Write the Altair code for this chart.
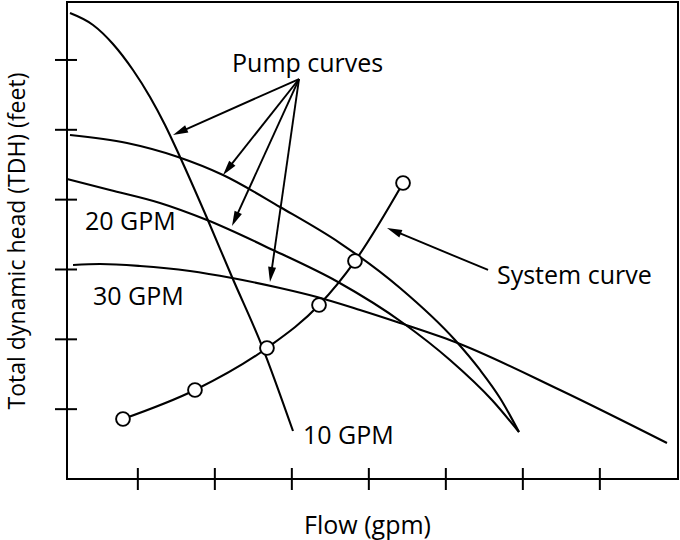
import math
import altair as alt
import pandas as pd

# Pump performance curves: flow (x) against total dynamic head (y), in grid units
flow_10gpm = [0.119, 0.418, 0.677, 0.937, 1.158, 1.353, 1.548, 1.898, 2.223, 2.612, 3.015]
head_10gpm = [6.672, 6.501, 6.229, 5.856, 5.470, 5.069, 4.611, 3.737, 2.892, 1.904, 0.687]

flow_upper = [0.119, 0.859, 1.522, 2.106, 2.846, 3.625, 4.405, 5.119, 5.444, 5.703, 5.950]
head_upper = [4.926, 4.811, 4.611, 4.353, 3.895, 3.379, 2.735, 1.990, 1.561, 1.160, 0.673]

flow_20gpm = [0.080, 0.638, 1.288, 1.898, 2.755, 3.599, 4.444, 5.054, 5.599, 5.950]
head_20gpm = [4.296, 4.138, 3.952, 3.708, 3.279, 2.821, 2.234, 1.704, 1.131, 0.673]

flow_30gpm = [0.158, 0.509, 1.028, 1.677, 2.223, 2.846, 3.327, 3.885, 4.405, 5.119, 6.483, 7.872]
head_30gpm = [3.064, 3.078, 3.050, 2.978, 2.878, 2.735, 2.606, 2.420, 2.234, 1.962, 1.274, 0.515]

# System curve with its measured points
system_flow = [0.807, 1.742, 2.677, 3.353, 3.820, 4.444]
system_head = [0.859, 1.274, 1.876, 2.491, 3.121, 4.238]

# Unlabelled tick positions
x_ticks = [1, 2, 3, 4, 5, 6, 7]
y_ticks = [1, 2, 3, 4, 5, 6]

# Annotation text (anchored at the left end of the baseline)
label_text = ["Pump curves", "20 GPM", "30 GPM", "10 GPM", "System curve"]
label_flow = [2.223, 0.314, 0.418, 3.145, 5.664]
label_head = [5.828, 3.565, 2.491, 0.501, 2.792]

# Callout arrows: tail -> head
arrow_from_flow = [3.093, 3.093, 3.093, 3.093, 5.548]
arrow_from_head = [5.727, 5.727, 5.727, 5.727, 2.993]
arrow_to_flow = [1.457, 2.106, 2.223, 2.716, 4.236]
arrow_to_head = [4.926, 4.353, 3.623, 2.821, 3.594]

W, H = 611, 477
X_DOMAIN = [0.08, 8.015]
Y_DOMAIN = [0.0, 6.83]
FONT = "Open Sans"

kx = W / (X_DOMAIN[1] - X_DOMAIN[0])
ky = H / (Y_DOMAIN[1] - Y_DOMAIN[0])

curve_rows = []
for name, fx, hy in [("10 GPM", flow_10gpm, head_10gpm),
                     ("upper", flow_upper, head_upper),
                     ("20 GPM", flow_20gpm, head_20gpm),
                     ("30 GPM", flow_30gpm, head_30gpm)]:
    for i, (f, h) in enumerate(zip(fx, hy)):
        curve_rows.append({"curve": name, "i": i, "flow": f, "head": h})
curves = pd.DataFrame(curve_rows)

system = pd.DataFrame({"flow": system_flow, "head": system_head,
                       "i": list(range(len(system_flow)))})

labels = pd.DataFrame({"text": label_text, "flow": label_flow, "head": label_head})

# Arrow shafts stop just inside the arrowhead; heads are rotated to the shaft direction
HEAD_LEN = 15.0
arrow_rows = []
for fx0, hy0, fx1, hy1 in zip(arrow_from_flow, arrow_from_head, arrow_to_flow, arrow_to_head):
    dx = (fx1 - fx0) * kx
    dy = (hy1 - hy0) * ky
    length = math.hypot(dx, dy)
    back = (HEAD_LEN - 4) / length
    angle = math.degrees(math.atan2(dx, dy)) % 360
    arrow_rows.append({
        "flow0": fx0, "head0": hy0,
        "flow1": fx1 - (fx1 - fx0) * back, "head1": hy1 - (hy1 - hy0) * back,
        "tip_flow": fx1, "tip_head": hy1, "angle": angle,
    })
arrows = pd.DataFrame(arrow_rows)

x_scale = alt.Scale(domain=X_DOMAIN, nice=False, zero=False)
y_scale = alt.Scale(domain=Y_DOMAIN, nice=False, zero=False)
x_axis = alt.Axis(title="Flow (gpm)", ticks=False, labels=False, domain=False, grid=False,
                  titleFont=FONT, titleFontSize=25, titleFontWeight="normal",
                  titleColor="black", titlePadding=34, titleX=300)
y_axis = alt.Axis(title="Total dynamic head (TDH) (feet)", ticks=False, labels=False,
                  domain=False, grid=False, titleFont=FONT, titleFontSize=23,
                  titleFontWeight="normal", titleColor="black", titlePadding=38)

X = alt.X("flow:Q", scale=x_scale, axis=x_axis)
Y = alt.Y("head:Q", scale=y_scale, axis=y_axis)

pump_lines = alt.Chart(curves).mark_line(
    color="black", strokeWidth=2.1, interpolate="monotone"
).encode(x=X, y=Y, detail="curve:N", order="i:Q")

system_line = alt.Chart(system).mark_line(
    color="black", strokeWidth=2.1, interpolate="monotone"
).encode(x=X, y=Y, order="i:Q")

system_points = alt.Chart(system).mark_point(
    shape="circle", filled=True, fill="white", stroke="black", strokeWidth=1.9,
    size=190, opacity=1
).encode(x=X, y=Y)

shafts = alt.Chart(arrows).mark_rule(color="black", strokeWidth=1.9).encode(
    x=alt.X("flow0:Q", scale=x_scale, axis=x_axis),
    y=alt.Y("head0:Q", scale=y_scale, axis=y_axis),
    x2="flow1:Q", y2="head1:Q",
)

heads = alt.Chart(arrows).mark_point(
    shape="M0,0L-0.4,1.5L0.4,1.5Z", filled=True, color="black", size=400, opacity=1,
    strokeWidth=0
).encode(
    x=alt.X("tip_flow:Q", scale=x_scale, axis=x_axis),
    y=alt.Y("tip_head:Q", scale=y_scale, axis=y_axis),
    angle=alt.Angle("angle:Q", scale=None),
)

x_tick_marks = alt.Chart(pd.DataFrame({"flow": x_ticks})).mark_rule(
    color="black", strokeWidth=2
).encode(x=X, y=alt.value(H - 11), y2=alt.value(H + 11))

y_tick_marks = alt.Chart(pd.DataFrame({"head": y_ticks})).mark_rule(
    color="black", strokeWidth=2
).encode(y=Y, x=alt.value(-12), x2=alt.value(10))

text = alt.Chart(labels).mark_text(
    align="left", baseline="alphabetic", font=FONT, fontSize=25, color="black"
).encode(x=X, y=Y, text="text:N")

chart = alt.layer(
    pump_lines, system_line, system_points, shafts, heads,
    x_tick_marks, y_tick_marks, text
).properties(
    width=W, height=H,
    autosize=alt.AutoSizeParams(type="none"),
    padding={"left": 67, "top": 2, "right": 2, "bottom": 61},
    background="white",
).configure_view(stroke="black", strokeWidth=2)

chart.save("out.html", embed_options={"renderer": "svg", "actions": False})
